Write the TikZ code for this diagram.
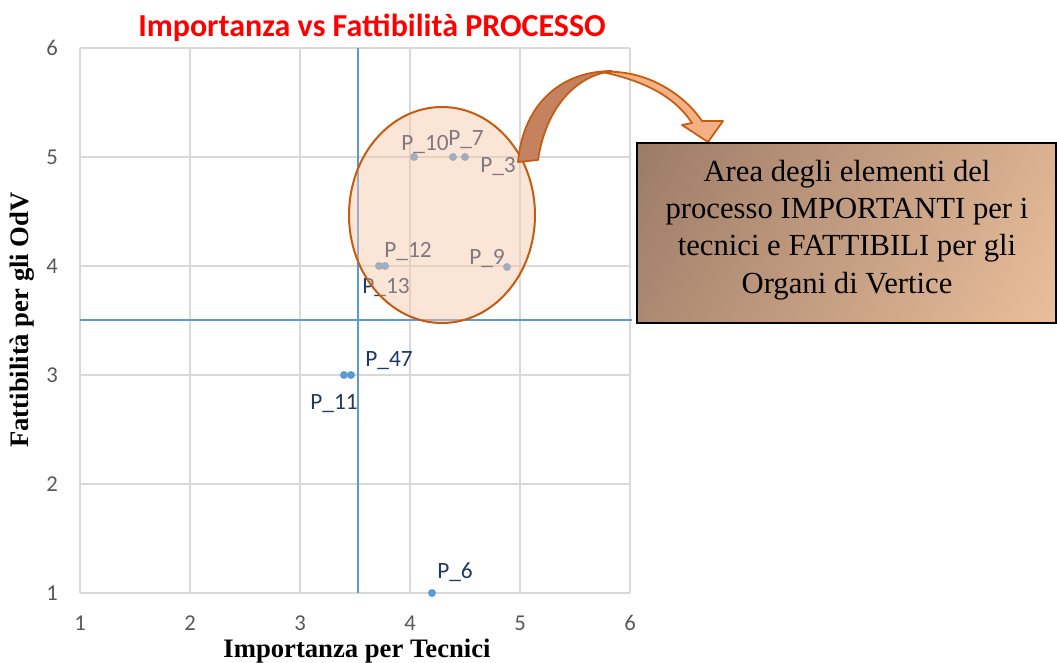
\documentclass[tikz,border=0pt]{standalone}
\usepackage{fontspec}
\setmainfont{Liberation Serif}
\newfontfamily\calibri{Carlito}
\definecolor{gridgray}{RGB}{217,217,217}
\definecolor{xlblue}{RGB}{91,155,213}
\definecolor{navy}{RGB}{32,56,100}
\definecolor{ticktxt}{RGB}{89,89,89}
\definecolor{ovalfill}{RGB}{246,198,165}
\definecolor{ovalline}{RGB}{197,90,17}
\definecolor{arrowdark}{RGB}{196,130,95}
\definecolor{arrowlight}{RGB}{244,177,131}
\definecolor{boxdark}{RGB}{138,108,90}
\definecolor{boxlight}{RGB}{252,206,168}
\pgfdeclarehorizontalshading{boxgrad}{100bp}{color(0bp)=(boxdark); color(100bp)=(boxlight)}

\tikzset{every picture/.style={line width=0.55pt}}
\tikzset{
  gridline/.style={draw=gridgray, line width=1.2pt},
  refline/.style={draw=xlblue, line width=0.8pt},
  pdot/.style={circle, fill=xlblue, inner sep=0pt, minimum size=6pt},
  plabel/.style={inner sep=0.75pt, text=navy, font=\calibri\fontsize{17.5}{17.5}\selectfont},
  ticklabel/.style={inner sep=0.75pt, text=ticktxt, font=\calibri\fontsize{17}{17}\selectfont},
  axtitle/.style={inner sep=0.75pt, font=\bfseries\fontsize{20}{20}\selectfont},
  arrowline/.style={draw=ovalline, line width=1.3pt, line join=round}
}

\begin{document}
\begin{tikzpicture}[x=0.75pt,y=0.75pt,yscale=-1,xscale=1]
  \useasboundingbox (0,0) rectangle (1057,663);
  %Grid
  \foreach \i in {0,...,5} {
    \draw [gridline] (80+\i*110,48) -- (80+\i*110,593) ;
    \draw [gridline] (80,48+\i*109) -- (630,48+\i*109) ;
  }
  % Tick labels
  \foreach \v [count=\k from 0] in {1,...,6} {
    \node [ticklabel] (xt\v) at (80+\k*110,623) {\v};
    \node [ticklabel] (yt\v) at (52,593-\k*109) {\v};
  }
  %Straight Lines (soglie)
  \draw [refline] (358,48) -- (358,593) ;
  \draw [refline] (80,320) -- (632,320) ;
  % Points
  \node [pdot] (p10) at (414,157) {};
  \node [pdot] (p7) at (453,157) {};
  \node [pdot] (p3) at (465,157) {};
  \node [pdot] (p13) at (379,266) {};
  \node [pdot] (p12) at (385,266) {};
  \node [pdot] (p9) at (507,267) {};
  \node [pdot] (p11) at (344,375) {};
  \node [pdot] (p47) at (351,375) {};
  \node [pdot] (p6) at (432,593) {};
  % Text Node
  \node [plabel] (lp10) at (425,144) {P\_10};
  \node [plabel] (lp7) at (466,140) {P\_7};
  \node [plabel] (lp3) at (498,166) {P\_3};
  \node [plabel] (lp12) at (408,251) {P\_12};
  \node [plabel] (lp13) at (386,287) {P\_13};
  \node [plabel] (lp9) at (487,258) {P\_9};
  \node [plabel] (lp47) at (389,361) {P\_47};
  \node [plabel] (lp11) at (334,404) {P\_11};
  \node [plabel] (lp6) at (455,572) {P\_6};
  %Ellipse
  \draw [draw=ovalline, line width=1.5pt, fill=ovalfill, fill opacity=0.45] (442,215) ellipse [x radius=93, y radius=108] ;
  %Curved arrow
  \draw [arrowline, fill=arrowlight] (602,72) .. controls (645,69) and (683,93) .. (702,121) -- (723,121) -- (708,142) -- (682,125) -- (692,123) .. controls (675,97) and (645,81) .. (602,72) -- cycle ;
  \draw [arrowline, fill=arrowdark] (518,162) .. controls (523,105) and (560,71) .. (612,71) .. controls (575,76) and (546,108) .. (538,160) -- cycle ;
  %Box
  \draw [line width=1.5pt, shading=boxgrad, shading angle=-30] (637,143) rectangle (1056,323) ;
  % Text Node
  \node [align=center, inner sep=0.75pt, font=\fontsize{23}{28}\selectfont] (area) at (847,230) {Area degli elementi del\\processo IMPORTANTI per i\\tecnici e FATTIBILI per gli\\Organi di Vertice};
  % Titles
  \node [inner sep=0.75pt, text=red, font=\calibri\bfseries\fontsize{24}{24}\selectfont] (title) at (372,28) {Importanza vs Fattibilità PROCESSO};
  \node [axtitle] (xtitle) at (357,651) {Importanza per Tecnici};
  \node [axtitle, rotate=90] (ytitle) at (22,320) {Fattibilità per gli OdV};
\end{tikzpicture}
\end{document}
